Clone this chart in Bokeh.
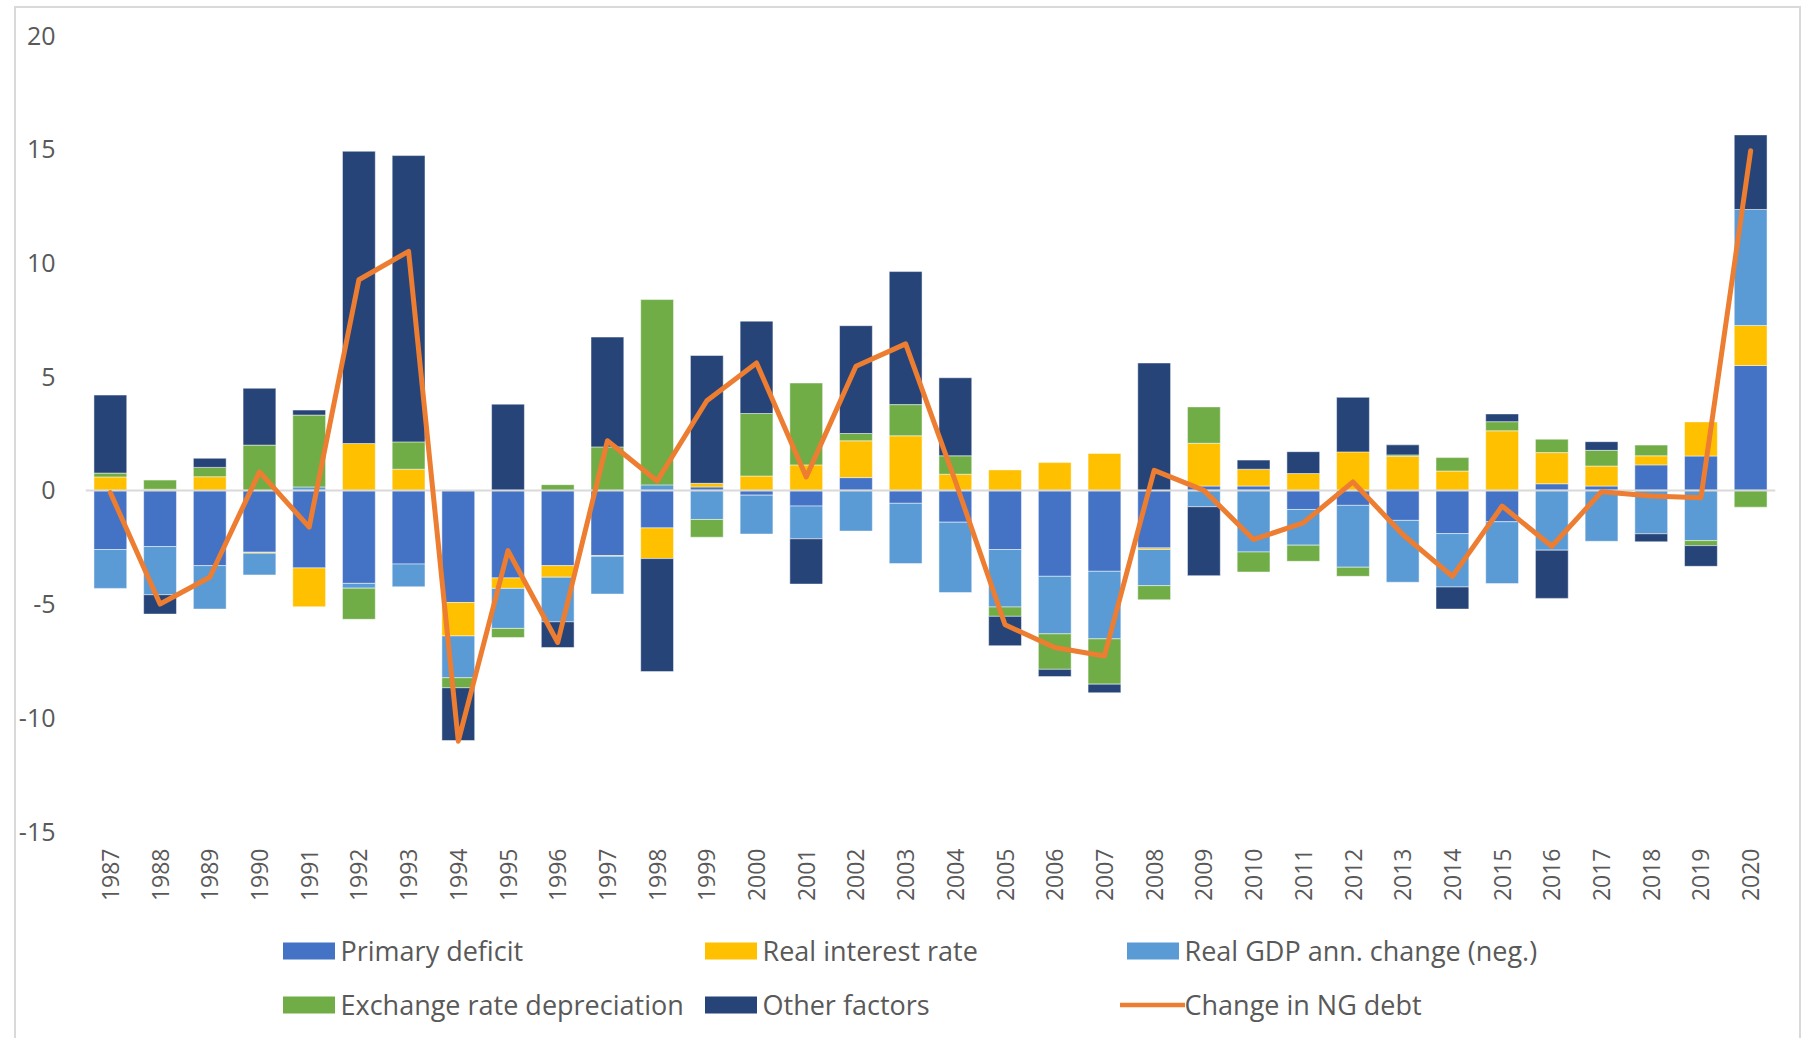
import math
from bokeh.plotting import figure
from bokeh.layouts import column
from bokeh.models import (ColumnDataSource, FactorRange, Range1d, FixedTicker, Legend, LegendItem,
                          PrintfTickFormatter, InlineStyleSheet)
from bokeh.embed import file_html
from bokeh.resources import INLINE

# ---------------- data ----------------
years = ["1987", "1988", "1989", "1990", "1991", "1992", "1993", "1994", "1995", "1996",
         "1997", "1998", "1999", "2000", "2001", "2002", "2003", "2004", "2005", "2006",
         "2007", "2008", "2009", "2010", "2011", "2012", "2013", "2014", "2015", "2016",
         "2017", "2018", "2019", "2020"]

primary_deficit = [-2.60, -2.47, -3.31, -2.72, -3.41, -4.09, -3.24, -4.93, -3.85, -3.31,
                   -2.87, -1.65, 0.15, -0.21, -0.69, 0.56, -0.57, -1.40, -2.60, -3.78,
                   -3.56, -2.53, 0.19, 0.19, -0.84, -0.66, -1.32, -1.90, -1.38, 0.29,
                   0.19, 1.12, 1.51, 5.49]

real_interest_rate = [0.59, 0.05, 0.60, -0.04, -1.71, 2.06, 0.93, -1.47, -0.46, -0.51,
                      -0.03, -1.35, 0.16, 0.63, 1.12, 1.62, 2.40, 0.71, 0.90, 1.22,
                      1.62, -0.07, 1.88, 0.74, 0.74, 1.69, 1.50, 0.85, 2.62, 1.37,
                      0.88, 0.40, 1.50, 1.76]

real_gdp_change_neg = [-1.71, -2.12, -1.91, -0.96, 0.15, -0.21, -1.00, -1.84, -1.76, -1.96,
                       -1.66, 0.24, -1.28, -1.71, -1.44, -1.79, -2.65, -3.09, -2.53, -2.53,
                       -2.97, -1.59, -0.72, -2.71, -1.57, -2.72, -2.72, -2.35, -2.72, -2.63,
                       -2.24, -1.91, -2.21, 5.10]

exchange_rate_depreciation = [0.17, 0.40, 0.41, 1.99, 3.16, -1.37, 1.20, -0.44, -0.40, 0.25,
                              1.91, 8.15, -0.78, 2.75, 3.60, 0.32, 1.37, 0.81, -0.41, -1.56,
                              -1.99, -0.62, 1.60, -0.88, -0.71, -0.40, 0.06, 0.59, 0.40, 0.59,
                              0.69, 0.47, -0.22, -0.74]

other_factors = [3.43, -0.85, 0.40, 2.50, 0.22, 12.85, 12.59, -2.32, 3.79, -1.13,
                 4.83, -4.97, 5.62, 4.06, -1.99, 4.74, 5.85, 3.43, -1.29, -0.32,
                 -0.38, 5.60, -3.03, 0.40, 0.96, 2.40, 0.44, -0.97, 0.34, -2.12,
                 0.38, -0.35, -0.91, 3.28]

change_in_ng_debt = [-0.10, -5.00, -3.82, 0.81, -1.62, 9.26, 10.51, -11.03, -2.65, -6.69,
                     2.18, 0.41, 3.94, 5.60, 0.59, 5.46, 6.44, 0.40, -5.91, -6.91,
                     -7.28, 0.88, 0.00, -2.16, -1.43, 0.37, -1.94, -3.78, -0.69, -2.46,
                     -0.06, -0.25, -0.32, 14.93]

series_names = ["Primary deficit", "Real interest rate", "Real GDP ann. change (neg.)",
                "Exchange rate depreciation", "Other factors"]
line_name = "Change in NG debt"
series_values = [primary_deficit, real_interest_rate, real_gdp_change_neg,
                 exchange_rate_depreciation, other_factors]
series_colors = ["#4472C4", "#FFC000", "#5B9BD5", "#70AD47", "#264478"]
line_color = "#ED7D31"

# ---------------- stacking (positive and negative stacked separately) ----------------
pos_base = [0.0] * len(years)
neg_base = [0.0] * len(years)
sources = []
for vals in series_values:
    tops, bottoms = [], []
    for i, v in enumerate(vals):
        if v >= 0:
            bottoms.append(pos_base[i])
            tops.append(pos_base[i] + v)
            pos_base[i] += v
        else:
            tops.append(neg_base[i])
            bottoms.append(neg_base[i] + v)
            neg_base[i] += v
    sources.append(ColumnDataSource(dict(x=years, top=tops, bottom=bottoms)))

# ---------------- main figure ----------------
TXT = "#595959"
FONT = "Open Sans"

p = figure(x_range=FactorRange(*years, range_padding=0), y_range=Range1d(-15, 20),
           width=1800, height=908, output_backend="svg", toolbar_location=None,
           min_border_left=85, min_border_right=25, min_border_top=35, min_border_bottom=77,
           background_fill_color="white", border_fill_color="white")
p.outline_line_color = None
p.xgrid.visible = False
p.ygrid.visible = False

for src, col in zip(sources, series_colors):
    p.vbar(x="x", top="top", bottom="bottom", width=0.66, source=src,
           fill_color=col, line_color="white", line_width=0.8, line_alpha=0.6)

p.hspan(y=[0], line_color="#D9D9D9", line_width=2)

p.line(x=years, y=change_in_ng_debt, line_color=line_color, line_width=5,
       line_join="round", line_cap="round")

p.yaxis.ticker = FixedTicker(ticks=[-15, -10, -5, 0, 5, 10, 15, 20])
p.yaxis.formatter = PrintfTickFormatter(format="%d")
p.yaxis.axis_line_color = None
p.yaxis.major_tick_line_color = None
p.yaxis.minor_tick_line_color = None
p.yaxis.major_tick_out = 0
p.yaxis.major_tick_in = 0
p.yaxis.major_label_standoff = 30
p.yaxis.major_label_text_font = FONT
p.yaxis.major_label_text_font_size = "25px"
p.yaxis.major_label_text_color = TXT

p.xaxis.axis_line_color = None
p.xaxis.major_tick_line_color = None
p.xaxis.minor_tick_line_color = None
p.xaxis.major_tick_out = 0
p.xaxis.major_tick_in = 0
p.xaxis.major_label_standoff = 17
p.xaxis.major_label_orientation = math.pi / 2
p.xaxis.major_label_text_font = FONT
p.xaxis.major_label_text_font_size = "23px"
p.xaxis.major_label_text_color = TXT

# ---------------- legend strip (separate figure, keys only) ----------------
lg = figure(x_range=Range1d(0, 1), y_range=Range1d(0, 1), width=1800, height=124,
            output_backend="svg", toolbar_location=None, x_axis_type=None, y_axis_type=None,
            min_border_left=0, min_border_right=0, min_border_top=0, min_border_bottom=0,
            background_fill_color="white", border_fill_color="white")
lg.outline_line_color = None
lg.xgrid.visible = False
lg.ygrid.visible = False

# key-only renderers: their single point lies outside the strip's ranges, so only the
# legend swatches are visible
keys = []
for col in series_colors:
    keys.append(lg.vbar(x=[-5], top=[-5], bottom=[-6], width=0.5, fill_color=col, line_color=None))
keys.append(lg.line(x=[-6, -5], y=[-5, -5], line_color=line_color, line_width=4.5, line_cap="round"))
key_labels = series_names + [line_name]


def make_legend(idx, loc):
    return Legend(items=[LegendItem(label=key_labels[i], renderers=[keys[i]]) for i in idx],
                  orientation="horizontal", location=loc,
                  glyph_width=65, glyph_height=21, label_standoff=0, label_width=347,
                  spacing=10, padding=0, margin=0, border_line_color=None,
                  background_fill_alpha=0, label_text_font=FONT,
                  label_text_font_size="27px", label_text_color=TXT)


lg.add_layout(make_legend([0, 1, 2], (190.5, 63)))
lg.add_layout(make_legend([3, 4, 5], (190.5, 9.5)))

# thin light-grey chart-area frame (left, top and right edges)
frame_css = InlineStyleSheet(css="""
:host { position: relative; }
:host::after {
  content: "";
  position: absolute;
  left: 14px; top: 6px; width: 1787px; height: 1032px;
  box-sizing: border-box;
  border-left: 2px solid #D9D9D9; border-top: 2px solid #D9D9D9;
  border-right: 2px solid #D9D9D9; border-bottom: none;
  pointer-events: none; z-index: 10;
}
""")

layout = column(p, lg, spacing=0, stylesheets=[frame_css])
open("out.html", "w").write(file_html(layout, INLINE))
